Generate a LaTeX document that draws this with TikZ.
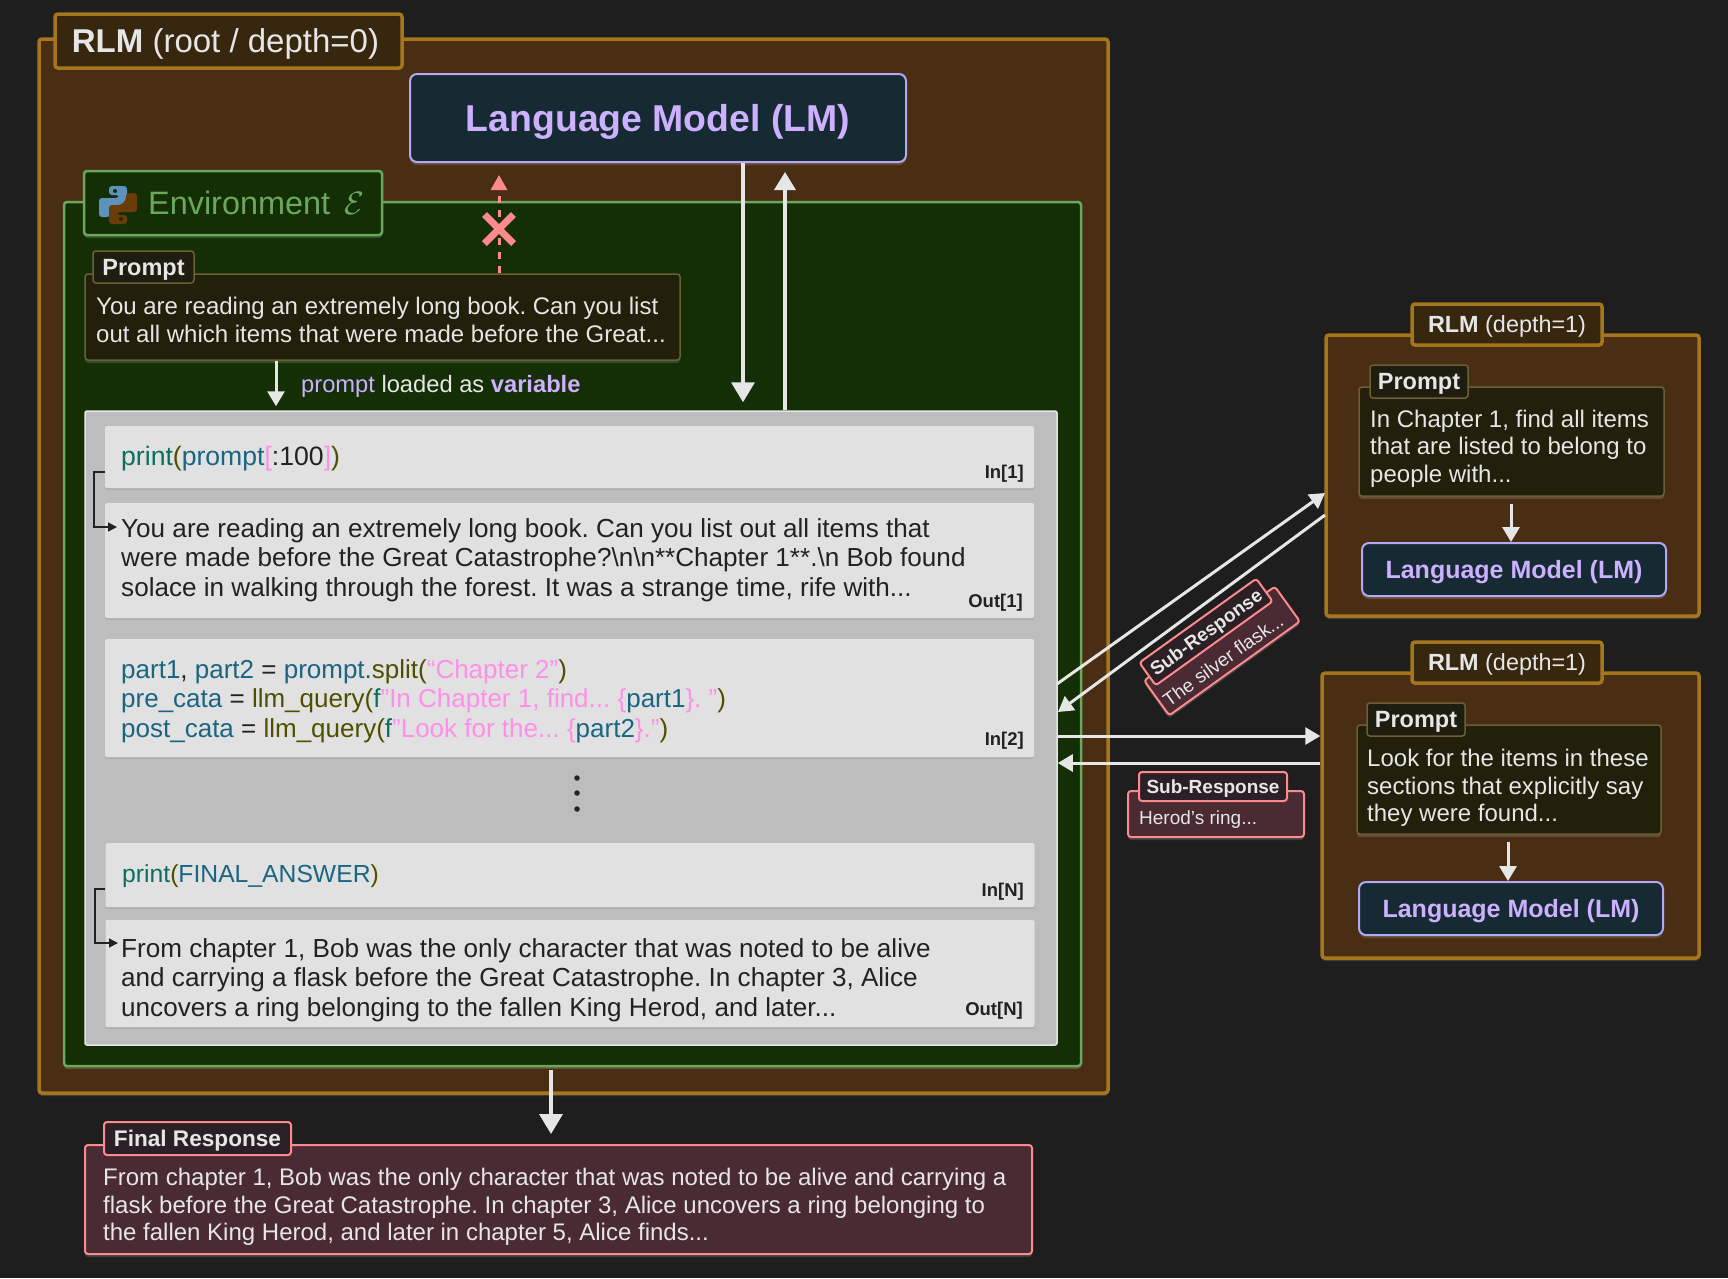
\documentclass[tikz,border=0pt]{standalone}
\usepackage{fontspec}
\setmainfont{Liberation Sans}
\usepackage{xcolor}
\usetikzlibrary{arrows.meta,shapes.misc,shadows}

\definecolor{pagebg}{HTML}{1E1E1E}
\definecolor{rlmfill}{HTML}{4A2E14}
\definecolor{rlmline}{HTML}{A5761B}
\definecolor{rlmtag}{HTML}{38270F}
\definecolor{lmfill}{HTML}{162A33}
\definecolor{lmline}{HTML}{B4A7F5}
\definecolor{lmtext}{HTML}{CDB0FF}
\definecolor{envfill}{HTML}{142F05}
\definecolor{envline}{HTML}{6AA85C}
\definecolor{pyblue}{HTML}{5C93BD}
\definecolor{pybrown}{HTML}{6A3D08}
\definecolor{promptfill}{HTML}{221F0A}
\definecolor{promptline}{HTML}{6B5F36}
\definecolor{prompttag}{HTML}{1F1C10}
\definecolor{panelfill}{HTML}{BDBDBD}
\definecolor{cellfill}{HTML}{E1E1E1}
\definecolor{pale}{HTML}{E6E6E6}
\definecolor{inkdark}{HTML}{222222}
\definecolor{redline}{HTML}{FF8A8E}
\definecolor{redfill}{HTML}{4A2A33}
\definecolor{redtag}{HTML}{2B2026}
\definecolor{codeteal}{HTML}{0B6E5F}
\definecolor{codeblue}{HTML}{1A6582}
\definecolor{codeolive}{HTML}{4F4F00}
\definecolor{codepink}{HTML}{FF8FE8}

\newcommand{\cfn}[1]{\textcolor{codeteal}{#1}}
\newcommand{\cvar}[1]{\textcolor{codeblue}{#1}}
\newcommand{\colv}[1]{\textcolor{codeolive}{#1}}
\newcommand{\cstr}[1]{\textcolor{codepink}{#1}}
\newcommand{\setfont}[2]{\frenchspacing\fontsize{#1}{#2}\selectfont}

\begin{document}
\begin{tikzpicture}[x=1pt,y=-1pt,
    glow/.style={drop shadow={shadow xshift=0pt,shadow yshift=-3pt,fill=white,opacity=.14}},
    rlmbox/.style={draw=rlmline,fill=rlmfill,line width=3.5pt,rounded corners=3pt,glow},
    rlmlabel/.style={draw=rlmline,fill=rlmtag,line width=3.5pt,rounded corners=3pt,text=pale,inner sep=0pt,text depth=0pt},
    lmbox/.style={draw=lmline,fill=lmfill,line width=2pt,rounded corners=7pt,text=lmtext,inner sep=0pt,text depth=0pt,glow},
    envbox/.style={draw=envline,fill=envfill,line width=2.5pt,rounded corners=3pt,glow},
    promptbox/.style={draw=promptline,fill=promptfill,line width=1.5pt,rounded corners=3pt,glow},
    prompttext/.style={text=pale,inner sep=0pt,anchor=west,align=left,font=\setfont{24}{27.5}},
    promptlabel/.style={draw=promptline,fill=prompttag,line width=1.5pt,rounded corners=3pt,
                        text=pale,inner sep=0pt,text depth=0pt,font=\bfseries\setfont{23.5}{27}},
    panelbox/.style={draw=pale,fill=panelfill,line width=1.5pt,rounded corners=2pt},
    cell/.style={fill=cellfill,rounded corners=2pt,
                 drop shadow={shadow xshift=0pt,shadow yshift=-2pt,fill=black,opacity=.07}},
    celltext/.style={text=inkdark,inner sep=0pt,anchor=west,align=left,font=\setfont{26.1}{29.5}},
    cellno/.style={text=inkdark,inner sep=0pt,font=\bfseries\setfont{18.5}{20}},
    redbox/.style={draw=redline,fill=redfill,line width=2pt,rounded corners=3pt,glow},
    redtext/.style={text=pale,inner sep=0pt,anchor=west,align=left},
    redlabel/.style={draw=redline,fill=redtag,line width=2pt,rounded corners=3pt,text=pale,inner sep=0pt,
                     text depth=0pt,font=\bfseries\setfont{19}{24}},
    flow/.style={draw=pale,line width=3pt,-{Triangle[width=17pt,length=15pt]}},
    bigflow/.style={draw=pale,line width=3.5pt,-{Triangle[width=23pt,length=20pt]}},
    trace/.style={draw=inkdark,line width=1.5pt,-{Triangle[width=9pt,length=9pt]}}]

    \fill[pagebg] (0,0) rectangle (1728,1278);
    \useasboundingbox (0,0) rectangle (1728,1278);

    \coordinate (promptx) at (276,0);
    \coordinate (blockx) at (499,0);
    \coordinate (downx) at (743,0);
    \coordinate (upx) at (785,0);
    \coordinate (finalx) at (551,0);

    \node[rlmbox,minimum width=1069pt,minimum height=1054pt] (rlm) at (573.5,566) {};
    \node[rlmlabel,minimum width=347pt,minimum height=54pt,font=\setfont{33}{38}] (rlmtitle) at (228.5,41)
        {\textbf{RLM} (root / depth=0)\hspace*{6pt}};
    \node[lmbox,minimum width=496pt,minimum height=88pt,font=\bfseries\setfont{37.4}{42}] (lm) at (658,118)
        {Language Model (LM)};

    \node[envbox,minimum width=1017pt,minimum height=864pt] (env) at (572.5,634) {};
    \node[envbox,minimum width=298pt,minimum height=64pt] (envtitle) at (233,203) {};
    \node[text=envline,inner sep=0pt,anchor=west,font=\setfont{32.4}{36}] (envtext) at (148,203)
        {Environment\, \scalebox{1.3}{$\mathcal{E}$}};
    \begin{scope}[shift={(118,205)}]
        \fill[rounded corners=3pt,fill=pyblue] (-9,-19) -- (9,-19) -- (9,0) -- (-3,0) -- (-8,5)
            -- (-8,12) -- (-19,12) -- (-19,-7) -- (1,-7) -- (1,-10) -- (-9,-10) -- cycle;
        \fill[rounded corners=3pt,fill=pybrown] (9,19) -- (-9,19) -- (-9,0) -- (3,0) -- (8,-5)
            -- (8,-12) -- (19,-12) -- (19,7) -- (-1,7) -- (-1,10) -- (9,10) -- cycle;
        \fill[envfill] (-3,-14) circle (2) (3,14) circle (2);
    \end{scope}

    \node[promptbox,minimum width=595pt,minimum height=86pt] (prompt) at (382.5,317) {};
    \node[prompttext] (prompttxt) at (96,320)
        {You are reading an extremely long book. Can you list\\
         out all which items that were made before the Great...};
    \node[promptlabel,minimum width=101pt,minimum height=32pt] (prompttitle) at (143.5,267) {Prompt};
    \node[inner sep=0pt,anchor=west,text=pale,font=\setfont{23.7}{27}] (promptnote) at (301,386)
        {\textcolor{lmtext}{prompt} loaded as \textcolor{lmtext}{\textbf{variable}}};

    \node[panelbox,minimum width=972pt,minimum height=634pt] (panel) at (571,728) {};

    \node[cell,minimum width=929pt,minimum height=62pt] (cella) at (569.5,457) {};
    \node[cell,minimum width=929pt,minimum height=115pt] (cellb) at (569.5,560.5) {};
    \node[cell,minimum width=929pt,minimum height=118pt] (cellc) at (569.5,698) {};
    \node[cell,minimum width=929pt,minimum height=64pt] (celld) at (570,875) {};
    \node[cell,minimum width=929pt,minimum height=107pt] (celle) at (570,973.5) {};

    \node[celltext,font=\setfont{26.6}{29.5}] (cellatxt) at (121,459)
        {\cfn{print}\colv{(}\cvar{prompt}\cstr{[}:100\cstr{]}\colv{)}};
    \node[celltext] (cellbtxt) at (121,560)
        {You are reading an extremely long book. Can you list out all items that\\
         were made before the Great Catastrophe?\textbackslash n\textbackslash n**Chapter 1**.\textbackslash n Bob found\\
         solace in walking through the forest. It was a strange time, rife with...};
    \node[celltext,font=\setfont{26}{29.5}] (cellctxt) at (121,701)
        {\cvar{part1}, \cvar{part2} = \cvar{prompt}\cfn{.}\colv{split(}\cstr{“Chapter 2”}\colv{)}\\
         \cvar{pre\_cata} = \colv{llm\_query(}\cfn{f}\cstr{”In Chapter 1, find... \{}\cvar{part1}\cstr{\}. ”}\colv{)}\\
         \cvar{post\_cata} = \colv{llm\_query(}\cfn{f}\cstr{”Look for the... \{}\cvar{part2}\cstr{\}.”}\colv{)}};
    \node[celltext,font=\setfont{24.7}{29.5}] (celldtxt) at (122,876)
        {\cfn{print}\colv{(}\cvar{FINAL\_ANSWER}\colv{)}};
    \node[celltext] (celletxt) at (121,980)
        {From chapter 1, Bob was the only character that was noted to be alive\\
         and carrying a flask before the Great Catastrophe. In chapter 3, Alice\\
         uncovers a ring belonging to the fallen King Herod, and later...};

    \node[cellno,anchor=east] (ina) at (1024,474) {In[1]};
    \node[cellno,anchor=east] (outa) at (1023,603) {Out[1]};
    \node[cellno,anchor=east] (inb) at (1024,741) {In[2]};
    \node[cellno,anchor=east] (inc) at (1024,892) {In[N]};
    \node[cellno,anchor=east] (outc) at (1023,1011) {Out[N]};

    \foreach \doty/\dotname in {778/dota,793/dotb,809/dotc}
        \node[circle,fill=inkdark,inner sep=0pt,minimum size=5.5pt] (\dotname) at (577,\doty) {};

    \coordinate (tracea) at (105,472);
    \coordinate (traceb) at (117,527);
    \coordinate (tracec) at (105,889);
    \coordinate (traced) at (118,943);
    \draw[trace] (tracea) -- (94,472) |- (traceb);
    \draw[trace] (tracec) -- (95,889) |- (traced);

    \draw[flow] (prompt.south -| promptx) -- ([yshift=4pt]panel.north -| promptx);
    \draw[bigflow] (lm.south -| downx) -- ([yshift=8pt]panel.north -| downx);
    \draw[bigflow,-{Triangle[width=21pt,length=18pt]}] (panel.north -| upx) -- ([yshift=-9pt]lm.south -| upx);
    \draw[draw=redline,line width=3pt,dash pattern=on 7pt off 7pt,-{Triangle[width=16pt,length=15pt,fill=redline]}]
        (prompt.north -| blockx) -- ([yshift=-12pt]lm.south -| blockx);
    \node[cross out,draw=redline,line width=7pt,minimum size=22pt,inner sep=0pt] (blocked) at (499,229) {};

    \node[rlmbox,minimum width=373pt,minimum height=281pt] (rlma) at (1512.5,475.5) {};
    \node[rlmlabel,minimum width=190pt,minimum height=41pt,font=\setfont{23.4}{28}] (rlmatitle) at (1507,324.5)
        {\textbf{RLM} (depth=1)};
    \node[promptbox,minimum width=305pt,minimum height=109pt] (prompta) at (1511.5,441.5) {};
    \node[prompttext] (promptatxt) at (1370,448.5)
        {In Chapter 1, find all items\\
         that are listed to belong to\\
         people with...};
    \node[promptlabel,minimum width=98pt,minimum height=33pt] (promptatitle) at (1419,381.5) {Prompt};
    \node[lmbox,minimum width=304pt,minimum height=53pt,font=\bfseries\setfont{25}{28}] (lma) at (1514,569.5)
        {Language Model (LM)};
    \draw[flow] (prompta.south -| lma) ++(-3,7) coordinate (arrowa) -- (arrowa |- lma.north);

    \node[rlmbox,minimum width=377pt,minimum height=285pt] (rlmb) at (1510.5,815.5) {};
    \node[rlmlabel,minimum width=190pt,minimum height=41pt,font=\setfont{23.4}{28}] (rlmbtitle) at (1507,662.5)
        {\textbf{RLM} (depth=1)};
    \node[promptbox,minimum width=304pt,minimum height=109pt] (promptb) at (1509,779.5) {};
    \node[prompttext] (promptbtxt) at (1367,788)
        {Look for the items in these\\
         sections that explicitly say\\
         they were found...};
    \node[promptlabel,minimum width=98pt,minimum height=33pt] (promptbtitle) at (1416,719.5) {Prompt};
    \node[lmbox,minimum width=304pt,minimum height=53pt,font=\bfseries\setfont{25}{28}] (lmb) at (1511,908.5)
        {Language Model (LM)};
    \draw[flow] (promptb.south -| lmb) ++(-3,7) coordinate (arrowb) -- (arrowb |- lmb.north);

    \coordinate (panelouta) at (1057,684);
    \coordinate (rlmain) at (1325,493);
    \coordinate (rlmaout) at (1325,515);
    \coordinate (panelina) at (1058,712);
    \draw[flow] (panelouta) -- (rlmain);
    \draw[flow] (rlmaout) -- (panelina);
    \draw[flow] (panel.east |- 0,736) -- (rlmb.west |- 0,736);
    \draw[flow] (rlmb.west |- 0,763) -- (panel.east |- 0,763);

    \node[redbox,rotate=35.7,minimum width=161pt,minimum height=43pt] (suba) at (1222,651) {};
    \node[redtext,anchor=center,rotate=35.7,font=\setfont{19}{22}] (subatxt) at (1223,660) {The silver flask...};
    \node[redlabel,rotate=35.7,minimum width=144pt,minimum height=28pt] (subatitle) at (1206,632) {Sub-Response};

    \node[redbox,minimum width=176pt,minimum height=46pt] (subb) at (1216,814) {};
    \node[redtext,font=\setfont{19}{23}] (subbtxt) at (1139,820) {Herod’s ring...};
    \node[redlabel,minimum width=148pt,minimum height=29pt] (subbtitle) at (1213,786.5) {Sub-Response};

    \node[redbox,minimum width=947pt,minimum height=109pt] (final) at (558.5,1199.5) {};
    \node[redtext,font=\setfont{24}{27.5}] (finaltxt) at (103,1207)
        {From chapter 1, Bob was the only character that was noted to be alive and carrying a\\
         flask before the Great Catastrophe. In chapter 3, Alice uncovers a ring belonging to\\
         the fallen King Herod, and later in chapter 5, Alice finds...};
    \node[redlabel,minimum width=187pt,minimum height=33pt,font=\bfseries\setfont{22.6}{27}] (finaltitle) at (197.5,1138.5) {Final Response};
    \draw[bigflow] ([yshift=-3pt]env.south -| finalx) -- ([yshift=10pt]final.north -| finalx);
\end{tikzpicture}
\end{document}
